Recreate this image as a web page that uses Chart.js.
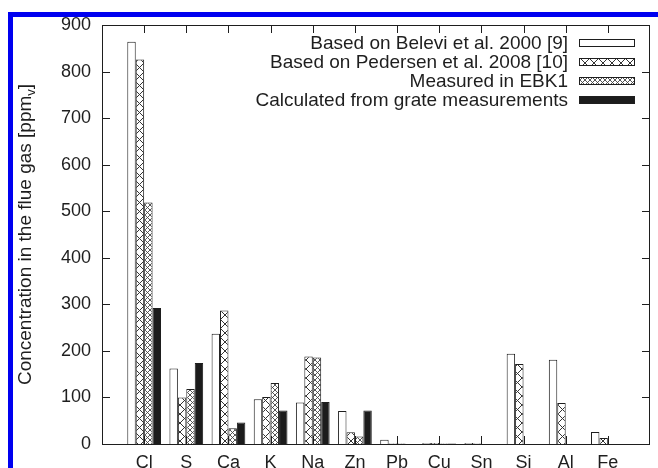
<!DOCTYPE html>
<html>
<head>
<meta charset="utf-8">
<script src="https://cdn.jsdelivr.net/npm/chart.js@4.4.1/dist/chart.umd.min.js"></script>
<style>
  html, body { margin: 0; padding: 0; background: #fff; }
  #wrap { position: relative; width: 658px; height: 468px; overflow: hidden; }
  #frame { position: absolute; left: 8px; top: 12px; right: 0; bottom: 0;
           border-left: 5px solid #0000f0; border-top: 5px solid #0000f0; }
  #chart { position: absolute; left: 0; top: 0; }
</style>
</head>
<body>
<div id="wrap">
  <div id="frame"></div>
  <canvas id="chart" width="658" height="468"></canvas>
</div>
<script>
// elements on the x axis
const elements = ['Cl', 'S', 'Ca', 'K', 'Na', 'Zn', 'Pb', 'Cu', 'Sn', 'Si', 'Al', 'Fe'];

// concentration in the flue gas, ppm_v
const belevi     = [864, 162, 237,  96,  89, 71, 9, 2, 2, 194, 181, 26];
const pedersen   = [826, 100, 287, 101, 188, 25, 1, 2, 1, 172,  88, 13];
const ebk1       = [519, 118,  34, 131, 186, 16, 1, 1, 0, null, null, null];
const calculated = [292, 174,  46,  72,  90, 72, 0, 1, 0, null, null, null];

const seriesNames = [
  'Based on Belevi et al. 2000 [9]',
  'Based on Pedersen et al. 2008 [10]',
  'Measured in EBK1',
  'Calculated from grate measurements'
];

const yMax = 900;
const yStep = 100;

const FONT = '"Liberation Sans", Arial, Helvetica, sans-serif';
const INK = '#1e1e1e';

function hatch(size, color, lw) {
  const c = document.createElement('canvas');
  c.width = size; c.height = size;
  const g = c.getContext('2d');
  g.fillStyle = '#fff';
  g.fillRect(0, 0, size, size);
  g.strokeStyle = color;
  g.lineWidth = lw;
  g.beginPath();
  g.moveTo(0, 0); g.lineTo(size, size);
  g.moveTo(size, 0); g.lineTo(0, size);
  g.stroke();
  return g.createPattern(c, 'repeat');
}

// pad one empty slot on each side, like the gnuplot x range
const pad = arr => [null, ...arr, null];
const labels = ['', ...elements, ''];

const fills = ['#fff', hatch(9, '#333', 1), hatch(5, '#444', 0.9), '#1c1c1c'];
const values = [belevi, pedersen, ebk1, calculated];

// inward ticks + box frame
const frameTicks = {
  id: 'frameTicks',
  afterDatasetsDraw(chart) {
    const { ctx, chartArea: a, scales: { x, y } } = chart;
    const len = 8;
    ctx.save();
    ctx.strokeStyle = INK;
    ctx.lineWidth = 1;
    ctx.beginPath();
    elements.forEach((_, i) => {
      const px = Math.round(x.getPixelForValue(i + 1)) + 0.5;
      ctx.moveTo(px, a.bottom); ctx.lineTo(px, a.bottom - len);
      ctx.moveTo(px, a.top); ctx.lineTo(px, a.top + len);
    });
    y.ticks.forEach(t => {
      const py = Math.round(y.getPixelForValue(t.value)) + 0.5;
      ctx.moveTo(a.left, py); ctx.lineTo(a.left + len, py);
      ctx.moveTo(a.right, py); ctx.lineTo(a.right - len, py);
    });
    ctx.stroke();
    ctx.strokeRect(Math.round(a.left) + 0.5, Math.round(a.top) + 0.5,
                   Math.round(a.right - a.left) - 1, Math.round(a.bottom - a.top));
    ctx.restore();
  }
};

// key in the top right corner, text right-aligned with the sample on the right
const keyBox = {
  id: 'keyBox',
  afterDraw(chart) {
    const ctx = chart.ctx;
    ctx.save();
    ctx.font = '19px ' + FONT;
    ctx.textAlign = 'right';
    ctx.textBaseline = 'middle';
    ctx.lineWidth = 1;
    ctx.strokeStyle = INK;
    chart.data.datasets.forEach((ds, i) => {
      const cy = Math.round(43 + i * 19);
      ctx.fillStyle = INK;
      ctx.fillText(ds.label, 568, cy + 1);
      ctx.fillStyle = ds.backgroundColor;
      ctx.fillRect(579, cy - 3, 55, 7);
      ctx.strokeRect(579.5, cy - 3.5, 55, 7);
    });
    ctx.restore();
  }
};

// rotated y title with subscript v
const yTitle = {
  id: 'yTitle',
  afterDraw(chart) {
    const { ctx, chartArea: a } = chart;
    const main = 'Concentration in the flue gas [ppm', sub = 'v', tail = ']';
    ctx.save();
    ctx.translate(26, (a.top + a.bottom) / 2);
    ctx.rotate(-Math.PI / 2);
    ctx.fillStyle = INK;
    ctx.textBaseline = 'middle';
    ctx.textAlign = 'left';
    ctx.font = '19px ' + FONT;
    const w1 = ctx.measureText(main).width, w3 = ctx.measureText(tail).width;
    ctx.font = '13px ' + FONT;
    const w2 = ctx.measureText(sub).width;
    let x0 = -(w1 + w2 + w3) / 2;
    ctx.font = '19px ' + FONT;
    ctx.fillText(main, x0, 0);
    ctx.font = '13px ' + FONT;
    ctx.fillText(sub, x0 + w1, 5);
    ctx.font = '19px ' + FONT;
    ctx.fillText(tail, x0 + w1 + w2, 0);
    ctx.restore();
  }
};

new Chart(document.getElementById('chart').getContext('2d'), {
  type: 'bar',
  data: {
    labels: labels,
    datasets: seriesNames.map((name, i) => ({
      label: name,
      data: pad(values[i]),
      backgroundColor: fills[i],
      borderColor: INK,
      borderWidth: 1,
      categoryPercentage: 0.8,
      barPercentage: 1.0
    }))
  },
  options: {
    responsive: false,
    animation: false,
    layout: { padding: { left: 0, right: 3, top: 25, bottom: 0 } },
    plugins: { legend: { display: false }, tooltip: { enabled: false } },
    scales: {
      x: {
        offset: false,
        grid: { display: false, drawTicks: false },
        border: { display: false },
        ticks: { autoSkip: false, maxRotation: 0, padding: 8, color: INK, font: { family: FONT, size: 18 } },
        afterFit: s => { s.height = 24; }
      },
      y: {
        min: 0,
        max: yMax,
        grid: { display: false, drawTicks: false },
        border: { display: false },
        ticks: { stepSize: yStep, padding: 11, color: INK, font: { family: FONT, size: 18 } },
        afterFit: s => { s.width = 102; }
      }
    }
  },
  plugins: [frameTicks, keyBox, yTitle]
});
</script>
</body>
</html>
